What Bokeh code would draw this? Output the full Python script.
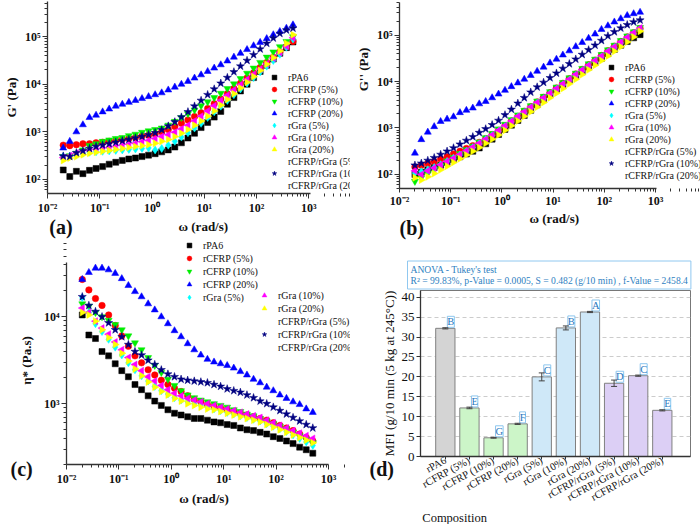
import numpy as np
from bokeh.plotting import figure
from bokeh.models import (Range1d, FixedTicker, CustomJSTickFormatter, Legend, LegendItem,
                          Label, ColumnDataSource, Whisker, TeeHead, LabelSet, Title)
from bokeh.layouts import column, row
from bokeh.embed import file_html
from bokeh.resources import INLINE

# ---------------- data ----------------
omega = [0.02, 0.0267, 0.0357, 0.0476, 0.0636, 0.085, 0.1135, 0.1516, 0.2025, 0.2704,
         0.3611, 0.4824, 0.6442, 0.8603, 1.149, 1.535, 2.049, 2.737, 3.656, 4.882,
         6.521, 8.709, 11.63, 15.53, 20.75, 27.71, 37.0, 49.42, 66.0, 88.15,
         117.7, 157.2, 209.9, 280.4, 374.4, 500.0]

names = ["rPA6", "rCFRP (5%)", "rCFRP (10%)", "rCFRP (20%)", "rGra (5%)", "rGra (10%)",
         "rGra (20%)", "rCFRP/rGra (5%)", "rCFRP/rGra (10%)", "rCFRP/rGra (20%)"]

# (a) storage modulus G' (Pa)
gp_rPA6 = [158,115,148,132,155,170,186,209,229,251,269,282,302,324,347,380,417,479,589,741,933,1230,1580,2040,2690,3800,5250,7240,10000,13800,18600,25100,33900,44700,58900,77600]
gp_rCFRP5 = [525,513,537,562,562,589,603,631,661,692,724,759,813,851,912,1000,1120,1290,1510,1780,2090,2510,3090,3890,4900,6310,8130,10500,13500,17400,22400,28800,37200,47900,61700,79400]
gp_rCFRP10 = [302,316,355,417,513,562,631,676,724,759,832,891,977,1050,1120,1200,1380,1660,2000,2400,2880,3550,4270,5250,6460,8130,10200,13200,17000,21900,28800,37200,47900,61700,79400,100000]
gp_rCFRP20 = [457,631,1000,1410,2000,2240,2630,3020,3470,3800,4170,4570,5010,5500,6030,6610,7590,8710,10000,11500,13500,15800,18600,21900,25700,30900,37200,44700,53700,64600,75900,91200,110000,129000,151000,178000]
gp_rGra5 = [302,309,331,355,372,380,389,398,407,417,427,437,447,457,417,447,525,631,776,955,1200,1510,2000,2630,3470,4570,6030,7940,10500,13800,18200,24000,31600,42700,60300,89100]
gp_rGra10 = [288,316,355,380,407,427,447,468,490,525,550,575,617,661,724,794,871,977,1150,1380,1700,2140,2750,3550,4570,5890,7590,9770,12600,16200,20900,26900,35500,46800,63100,95500]
gp_rGra20 = [251,282,302,331,355,372,389,407,427,447,468,490,513,537,575,631,692,794,933,1120,1380,1700,2140,2750,3630,4790,6310,8320,11000,14500,19500,26300,36300,50100,72400,110000]
gp_mix5 = [224,182,245,302,372,398,457,501,537,575,617,661,724,794,871,977,1150,1410,1780,2290,2950,3800,5010,6610,8710,11500,15100,20000,26300,34700,45700,60300,77600,97700,117000,132000]
gp_mix10 = [309,302,363,398,447,490,525,562,603,646,692,741,794,871,955,1100,1320,1620,2040,2630,3470,4570,6030,7940,10500,13800,18200,24000,31600,41700,55000,72400,93300,117000,138000,151000]
gp_mix20 = [214,282,398,501,562,631,759,933,1000,1100,1200,1290,1410,1510,1660,1860,2290,2880,3800,5010,6610,8510,10700,13200,16600,20900,25700,31600,40700,53700,72400,95500,120000,151000,191000,234000]

# (b) loss modulus G'' (Pa)
gpp_rPA6 = [100,112,126,141,158,182,209,240,275,316,372,457,575,724,933,1150,1450,1860,2400,3160,4070,5250,6760,8510,10700,13200,16200,20400,25700,31600,39800,49000,60300,72400,87100,102000]
gpp_rCFRP5 = [145,158,174,191,214,240,275,316,363,417,490,589,724,891,1120,1410,1780,2290,2880,3630,4570,5750,7240,9120,11500,14500,18200,22900,28800,36300,45700,57500,72400,91200,112000,138000]
gpp_rCFRP10 = [71,85,105,129,158,195,234,282,339,407,501,617,759,955,1200,1510,1910,2400,3020,3800,4790,6030,7590,9550,12000,15100,19100,24000,30200,38000,47900,60300,75900,95500,117000,145000]
gpp_rCFRP20 = [288,562,813,1070,1380,1550,1740,2140,2400,2690,3310,3720,4470,5370,6460,7760,9330,11200,13500,16600,20400,25100,30200,37200,45700,56200,69200,85100,105000,132000,158000,191000,224000,263000,288000,309000]
gpp_rGra5 = [107,115,126,141,162,191,224,263,316,380,457,562,692,851,1070,1350,1700,2140,2690,3390,4270,5370,6760,8510,10700,13500,17000,21400,26900,33900,42700,53700,67600,85100,107000,132000]
gpp_rGra10 = [120,100,120,138,162,191,224,269,324,389,468,575,708,891,1120,1410,1780,2240,2820,3550,4470,5620,7080,8910,11200,14100,17800,22400,28200,35500,44700,56200,70800,89100,112000,141000]
gpp_rGra20 = [85,76,89,105,126,151,182,219,263,316,380,468,575,708,891,1120,1410,1780,2240,2820,3550,4470,5620,7080,8910,11200,14100,17800,22400,28200,35500,44700,56200,70800,91200,120000]
gpp_mix5 = [132,148,166,191,219,257,302,363,437,525,631,776,955,1170,1480,1910,2450,3160,4070,5130,6460,8130,10200,12900,16200,20400,25700,32400,40700,51300,63100,79400,97700,117000,138000,158000]
gpp_mix10 = [158,174,200,229,269,316,372,447,537,646,794,955,1170,1450,1910,2510,3390,4470,5890,7590,9550,12000,15100,19100,24000,30200,38000,47900,60300,75900,95500,117000,141000,166000,191000,209000]
gpp_mix20 = [209,282,380,501,631,759,955,1100,1260,1480,1740,2090,2570,3310,4170,5130,6310,7760,9330,11200,14100,17800,21400,25100,30200,37200,46800,58900,75900,95500,120000,148000,174000,204000,234000,263000]

# (c) complex viscosity eta* (Pa.s)
eta_rPA6 = [10500,6170,5620,3980,3550,2880,2400,2040,1660,1450,1230,1070,955,851,776,741,708,676,676,646,617,603,575,562,525,501,490,468,447,417,398,372,347,316,295,269]
eta_rCFRP5 = [26900,20400,16200,13500,10500,7940,6030,4570,3550,2950,2450,2140,1860,1660,1510,1380,1230,1120,1050,977,933,891,851,813,776,741,708,676,646,603,562,525,490,447,407,372]
eta_rCFRP10 = [14100,13200,11200,10000,9120,8130,7080,6030,5010,4170,3390,2750,2290,1910,1620,1410,1260,1170,1100,1050,1000,955,912,851,813,759,724,676,631,589,550,513,468,427,389,355]
eta_rCFRP20 = [26900,32400,36300,36300,34700,31600,27500,22900,19500,17000,14100,12000,10000,8320,6920,5890,4900,4170,3630,3240,3020,2880,2750,2570,2340,2140,1910,1740,1550,1410,1260,1150,1050,977,871,794]
eta_rGra5 = [16600,11200,8320,6760,5500,4470,3630,2950,2450,2090,1820,1580,1410,1290,1170,1100,1050,1000,955,912,871,832,794,759,724,692,661,631,589,550,513,479,437,398,363,331]
eta_rGra10 = [12600,11200,8910,7410,6310,5130,4170,3390,2820,2400,2040,1820,1620,1450,1320,1230,1150,1100,1050,1000,955,912,871,832,794,759,724,692,646,603,562,525,490,457,427,398]
eta_rGra20 = [11200,10500,8910,7080,5750,4790,3800,3090,2510,2090,1780,1550,1380,1260,1150,1070,1000,955,912,871,851,813,776,741,708,676,646,617,575,537,501,468,437,407,380,355]
eta_mix5 = [12000,10000,9330,8510,7590,6460,5620,4570,3890,3310,2950,2510,2240,2000,1820,1700,1620,1550,1480,1410,1320,1260,1170,1120,1050,977,891,813,759,708,646,589,537,479,437,389]
eta_mix10 = [17000,13500,11500,10000,8510,7080,5890,4790,3980,3630,3160,2820,2450,2190,2040,1910,1860,1820,1780,1740,1660,1580,1480,1410,1350,1260,1170,1070,1000,912,832,759,692,631,575,525]
eta_mix20 = [15500,14500,14100,14100,13500,12300,10700,9770,8130,6920,5890,5130,4270,3890,3720,3470,3390,3020,2820,2690,2570,2450,2340,2290,2190,2000,1910,1740,1620,1480,1350,1230,1070,977,871,741]

# (d) melt flow index
mfi_categories = names
mfi_values = [32.2, 12.2, 4.7, 8.2, 20.0, 32.3, 36.3, 18.4, 20.3, 11.6]
mfi_errors = [0.15, 0.2, 0.1, 0.15, 1.0, 0.5, 0.15, 0.8, 0.15, 0.15]
tukey_letters = ["B", "E", "G", "F", "C", "B", "A", "D", "C", "E"]
mfi_y_ticks = [0, 5, 10, 15, 20, 25, 30, 35, 40]

gp_series = [gp_rPA6, gp_rCFRP5, gp_rCFRP10, gp_rCFRP20, gp_rGra5, gp_rGra10, gp_rGra20, gp_mix5, gp_mix10, gp_mix20]
gpp_series = [gpp_rPA6, gpp_rCFRP5, gpp_rCFRP10, gpp_rCFRP20, gpp_rGra5, gpp_rGra10, gpp_rGra20, gpp_mix5, gpp_mix10, gpp_mix20]
eta_series = [eta_rPA6, eta_rCFRP5, eta_rCFRP10, eta_rCFRP20, eta_rGra5, eta_rGra10, eta_rGra20, eta_mix5, eta_mix10, eta_mix20]

# ---------------- styles ----------------
colors = ["#000000", "#ff0000", "#00ee00", "#0000ff", "#00ffff", "#ff00ff", "#ffff00", "#808000", "#000080", "#800080"]
markers = ["square", "circle", "inverted_triangle", "triangle", "diamond", "triangle", "triangle", "hexagon", "star", "hexagon"]
angles = [0, 0, 0, 0, 0, np.pi / 2, -np.pi / 2, 0, 0, 0]
msizes = [6, 6.5, 7, 7, 8, 7, 7, 7, 8.5, 7]
bar_colors = ["#d4d4d4", "#ccf5c8", "#ccf5c8", "#ccf5c8", "#cfe8f8", "#cfe8f8", "#cfe8f8", "#dccff5", "#dccff5", "#dccff5"]

SERIF = "Liberation Serif"
NBSP = "\u00a0"
SUP = r"""
const sup = {"-":"⁻","0":"⁰","1":"¹","2":"²","3":"³","4":"⁴","5":"⁵","6":"⁶","7":"⁷","8":"⁸","9":"⁹"};
const e = Math.round(Math.log10(tick));
let s = "";
for (const c of String(e)) { s += sup[c]; }
return "10" + s;
"""


def decade_ticks(lo, hi):
    majors = [10.0 ** k for k in range(lo, hi + 1)]
    minors = [m * 10.0 ** k for k in range(lo - 1, hi + 1) for m in range(2, 10)]
    return FixedTicker(ticks=majors, minor_ticks=minors)


def style_axis(ax, bold=True, size="12px"):
    ax.axis_line_color = "#333333"
    ax.axis_line_width = 1.3
    ax.major_tick_line_color = "#333333"
    ax.minor_tick_line_color = "#333333"
    ax.major_tick_in = 0
    ax.major_tick_out = 5
    ax.minor_tick_in = 0
    ax.minor_tick_out = 3
    ax.major_label_text_font = SERIF
    ax.major_label_text_font_size = size
    ax.major_label_text_font_style = "bold" if bold else "normal"
    ax.major_label_text_color = "#111111"
    ax.major_label_standoff = 2
    ax.axis_label_text_font = SERIF
    ax.axis_label_text_font_size = "13px"
    ax.axis_label_text_font_style = "bold" if bold else "normal"
    ax.axis_label_text_color = "#111111"
    ax.axis_label_standoff = 3


def rheo_fig(w, h, xr, yr, borders, xt, yt, xb, yb, ylab=None):
    p = figure(width=w, height=h, x_axis_type="log", y_axis_type="log",
               x_range=Range1d(*xr), y_range=Range1d(*yr),
               output_backend="svg", toolbar_location=None,
               min_border_left=borders[0], min_border_right=borders[1],
               min_border_top=borders[2], min_border_bottom=borders[3])
    p.outline_line_color = None
    p.xgrid.visible = False
    p.ygrid.visible = False
    p.xaxis.ticker = decade_ticks(*xt)
    p.yaxis.ticker = decade_ticks(*yt)
    p.xaxis.formatter = CustomJSTickFormatter(code=SUP)
    p.yaxis.formatter = CustomJSTickFormatter(code=SUP)
    style_axis(p.xaxis[0])
    style_axis(p.yaxis[0])
    p.xaxis.bounds = xb
    p.yaxis.bounds = yb
    if ylab:
        p.yaxis.axis_label = ylab
    return p


def add_series(p, ys_list):
    rs = []
    for k, ys in enumerate(ys_list):
        r = p.scatter(omega, ys, marker=markers[k], size=msizes[k], angle=angles[k],
                      fill_color=colors[k], line_color=colors[k], line_width=0.5)
        rs.append(r)
    return rs


def make_legend(items, loc, row_h=12, spacing=0):
    return Legend(items=items, location=loc, orientation="vertical", padding=0, margin=0,
                  spacing=spacing, glyph_width=12, glyph_height=row_h, label_height=row_h,
                  label_standoff=8, label_text_font=SERIF, label_text_font_size="10px",
                  label_text_color="#111111", border_line_color=None, background_fill_alpha=0)


def strip(w, h):
    s = figure(width=w, height=h, x_range=Range1d(0, w), y_range=Range1d(h, 0),
               output_backend="svg", toolbar_location=None,
               x_axis_location=None, y_axis_location=None, min_border=0)
    s.outline_line_color = None
    s.grid.visible = False
    return s


def put(s, x, y, txt, size="13px", style="bold", align="left", angle=0):
    s.add_layout(Label(x=x, y=y, text=txt, text_font=SERIF, text_font_size=size,
                       text_font_style=style, text_align=align, text_baseline="middle",
                       angle=angle, text_color="#111111"))


# ---------------- (a) ----------------
pa = rheo_fig(350, 217, (0.01, 10 ** 3.80), (10 ** 1.704, 10 ** 5.74), (46, 0, 1, 21),
              (-2, 3), (2, 5), (0.01, 1100), (10 ** 1.704, 10 ** 5.74), "G' (Pa)")
ra = add_series(pa, gp_series)
pa.add_layout(make_legend([LegendItem(label=n, renderers=[r]) for n, r in zip(names, ra)], (221, 2)))
strip_a = strip(350, 23)
put(strip_a, 2, 9.5, "(a)", size="20px")
put(strip_a, 180, 9, "ω (rad/s)", align="center")

# ---------------- (b) ----------------
pb = rheo_fig(350, 210, (0.01, 10 ** 3.879), (10 ** 1.698, 10 ** 5.70), (49, 0, 2, 19),
              (-2, 3), (2, 5), (0.01, 1050), (10 ** 1.698, 10 ** 5.70), NBSP * 16 + "G'' (Pa)")
pb.xaxis.major_tick_out = 4
pb.xaxis.major_label_standoff = 1
rb = add_series(pb, gpp_series)
pb.add_layout(make_legend([LegendItem(label=n, renderers=[r]) for n, r in zip(names, rb)], (206, 7)))
strip_b = strip(350, 30)
put(strip_b, 0, 17.5, "(b)", size="20px")
put(strip_b, 180, 7.5, "ω (rad/s)", align="center")

# ---------------- (c) ----------------
pc = rheo_fig(310, 248, (0.01, 10 ** 3.418), (10 ** 2.30, 10 ** 4.878), (25, 0, 0, 22),
              (-2, 3), (3, 4), (0.01, 1000), (10 ** 2.30, 10 ** 4.627))
rc = add_series(pc, eta_series)
items_c = [LegendItem(label=n, renderers=[r]) for n, r in zip(names, rc)]
pc.add_layout(make_legend(items_c[:5], (117, 161), spacing=1))
pc.add_layout(make_legend(items_c[5:], (192, 111), spacing=1))
strip_pc = strip(310, 36)
put(strip_pc, 150, 10, "ω (rad/s)", align="center")
strip_lc = strip(40, 284)
put(strip_lc, 26, 120, "η* (Pa.s)", align="center", angle=np.pi / 2)
put(strip_lc, 10, 228, "(c)", size="20px")

# ---------------- (d) ----------------
xs = list(range(len(mfi_categories)))
src = ColumnDataSource(dict(
    x=xs, mfi=mfi_values, color=bar_colors, letter=tukey_letters,
    up=[v + e for v, e in zip(mfi_values, mfi_errors)],
    lo=[v - e for v, e in zip(mfi_values, mfi_errors)]))

pd_ = figure(width=302, height=270, x_range=Range1d(-1.03, 10.17), y_range=Range1d(0, 41.7),
             output_backend="svg", toolbar_location=None,
             min_border_left=20, min_border_right=10, min_border_top=50, min_border_bottom=52)
pd_.outline_line_color = "#777777"
pd_.outline_line_width = 1
pd_.xgrid.visible = False
pd_.ygrid.grid_line_color = "#cccccc"
pd_.ygrid.grid_line_dash = "4 3"
pd_.ygrid.ticker = FixedTicker(ticks=mfi_y_ticks[1:])
pd_.vbar(x="x", top="mfi", width=0.8, fill_color="color", line_color="#808080", line_width=1, source=src)
pd_.add_layout(Whisker(source=src, base="x", upper="up", lower="lo", line_color="#444444", line_width=1,
                       upper_head=TeeHead(size=6, line_color="#444444"),
                       lower_head=TeeHead(size=6, line_color="#444444"), level="overlay"))
pd_.add_layout(LabelSet(x="x", y="mfi", text="letter", source=src, x_offset=2, y_offset=1,
                        text_font=SERIF, text_font_size="10.5px", text_color="#2878c0",
                        border_line_color="#8cc6ee", background_fill_color="white",
                        text_align="left", text_baseline="bottom"))
pd_.xaxis.ticker = FixedTicker(ticks=xs)
pd_.xaxis.major_label_overrides = {i: n for i, n in zip(xs, mfi_categories)}
pd_.xaxis.major_label_orientation = 0.5
pd_.yaxis.ticker = FixedTicker(ticks=mfi_y_ticks)
style_axis(pd_.xaxis[0], bold=False, size="10.5px")
style_axis(pd_.yaxis[0], bold=False, size="13px")
pd_.xaxis.major_tick_out = 3
pd_.xaxis.major_label_standoff = 0
pd_.yaxis.major_tick_out = 4
pd_.xaxis.minor_tick_out = 0
pd_.yaxis.minor_tick_out = 0

anova_kw = dict(text="ANOVA - Tukey's test\nR² = 99.83%, p-Value = 0.0005, S = 0.482 (g/10 min) , f-Value = 2458.4",
                align="left", offset=-13, standoff=3, text_font=SERIF, text_font_size="9.6px",
                text_font_style="normal", text_color="#2f7fc1",
                border_line_color="#90c8f0", background_fill_color="white")
if "padding" in Title.properties():
    anova_kw["padding"] = 3
pd_.add_layout(Title(**anova_kw), "above")

strip_ld = strip(48, 284)
put(strip_ld, 38.5, 133, "MFI (g/10 min (5 kg at 245°C))", style="normal", align="center", angle=np.pi / 2)
put(strip_ld, 19, 228.5, "(d)", size="20px")
strip_d = strip(302, 14)
put(strip_d, 2, 7, "Composition", size="12.5px", style="normal")

top = row(column(pa, strip_a), column(pb, strip_b))
bottom = row(strip_lc, column(pc, strip_pc), strip_ld, column(pd_, strip_d))
layout = column(top, bottom)
open("out.html", "w").write(file_html(layout, INLINE))
